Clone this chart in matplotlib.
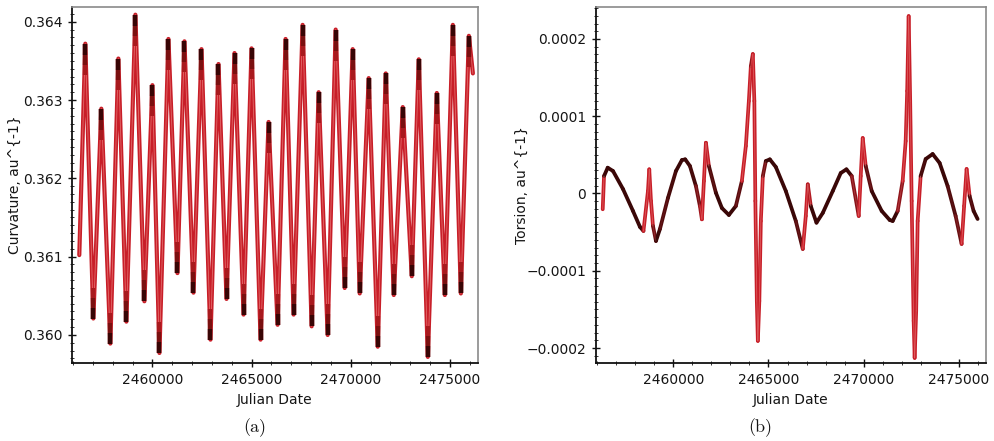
import numpy as np
import matplotlib
matplotlib.use("Agg")
import matplotlib.pyplot as plt
from matplotlib.collections import LineCollection
from matplotlib.path import Path
from matplotlib.ticker import MultipleLocator, FuncFormatter, FormatStrFormatter
from matplotlib.colors import to_rgb

# ---------------- data ----------------
curvature_jd = [2456313, 2456616, 2457020, 2457424, 2457879, 2458283, 2458687, 2459141,
                2459596, 2460000, 2460354, 2460808, 2461263, 2461616, 2462071, 2462475,
                2462929, 2463333, 2463737, 2464141, 2464596, 2465000, 2465455, 2465859,
                2466313, 2466717, 2467121, 2467576, 2468030, 2468384, 2468838, 2469242,
                2469697, 2470101, 2470455, 2470909, 2471364, 2471768, 2472172, 2472626,
                2473081, 2473434, 2473889, 2474343, 2474747, 2475152, 2475556, 2475960,
                2476162]
curvature = [0.36102, 0.36372, 0.36021, 0.36289, 0.35989, 0.36353, 0.36017, 0.36409,
             0.36043, 0.36319, 0.35977, 0.36378, 0.36079, 0.36375, 0.36054, 0.36365,
             0.35994, 0.36346, 0.36046, 0.36360, 0.36026, 0.36366, 0.35994, 0.36272,
             0.36013, 0.36378, 0.36026, 0.36396, 0.36011, 0.36310, 0.36000, 0.36390,
             0.36060, 0.36365, 0.36053, 0.36328, 0.35985, 0.36334, 0.36051, 0.36291,
             0.36075, 0.36352, 0.35972, 0.36309, 0.36051, 0.36396, 0.36053, 0.36382,
             0.36334]

torsion_jd = [2456298, 2456366, 2456560, 2456838, 2457362, 2457887, 2458254, 2458437,
              2458673, 2458741, 2458831, 2458935, 2459093, 2459303, 2459722, 2460142,
              2460456, 2460629, 2460876, 2461190, 2461400, 2461505, 2461610, 2461715,
              2461872, 2462239, 2462554, 2462921, 2463288, 2463603, 2463812, 2463970,
              2464075, 2464179, 2464258, 2464311, 2464389, 2464442, 2464520, 2464599,
              2464704, 2464861, 2465071, 2465386, 2465910, 2466434, 2466801, 2466959,
              2467064, 2467221, 2467520, 2467850, 2468375, 2468794, 2469093, 2469371,
              2469738, 2469843, 2469948, 2470105, 2470420, 2470944, 2471364, 2471521,
              2471783, 2472045, 2472203, 2472282, 2472360, 2472439, 2472517, 2472622,
              2472675, 2472754, 2472832, 2472989, 2473252, 2473619, 2473986, 2474405,
              2474825, 2475140, 2475271, 2475402, 2475559, 2475769, 2475979]
torsion_1e5 = [-2.04, 2.26, 3.34, 2.91, 0.58, -2.26, -4.33, -4.85,
               0.32, 3.13, -0.97, -4.20, -6.15, -4.59, -0.58, 2.91,
               4.33, 4.42, 3.56, 0.97, -1.62, -3.34, 1.62, 6.57,
               3.56, 0.10, -1.88, -2.78, -1.62, 1.62, 6.15, 11.97,
               16.49, 18.05, 11.97, -0.97, -13.91, -19.08, -13.91, -3.56,
               2.26, 4.20, 4.42, 3.43, 0.32, -3.56, -7.18, -2.91,
               1.19, -1.62, -3.78, -2.52, 0.32, 2.65, 3.13, 2.26,
               -2.91, 2.26, 7.18, 3.56, 0.32, -2.26, -3.43, -3.56,
               -2.26, 1.62, 6.79, 13.26, 22.96, 11.97, -0.97, -16.49,
               -21.28, -15.20, -3.56, 2.26, 4.46, 5.11, 3.95, 0.97,
               -2.91, -6.53, -1.62, 3.17, -0.32, -2.26, -3.30]
torsion = [v * 1e-5 for v in torsion_1e5]

x_major = [2460000, 2465000, 2470000, 2475000]
curv_ticks = [0.360, 0.361, 0.362, 0.363, 0.364]
tors_ticks = [-0.0002, -0.0001, 0.0, 0.0001, 0.0002]
xlabel_text = "Julian Date"
ylabel_left = "Curvature, au^{-1}"
ylabel_right = "Torsion, au^{-1}"
panel_labels = ["(a)", "(b)"]

# ---------------- style ----------------
RED = "#c81e28"
PINK = "#e26a6a"
DARK = "#380505"
TXT = "#151515"

XLIM = (2455945, 2476420)
YL_LIM = (0.359642, 0.364188)
YR_LIM = (-2.194e-4, 2.414e-4)

fig = plt.figure(figsize=(9.95, 4.41), dpi=100)
axL = fig.add_axes([72 / 995, 1 - 363 / 441, 406 / 995, 356 / 441])
axR = fig.add_axes([596 / 995, 1 - 363 / 441, 390 / 995, 356 / 441])

for ax in (axL, axR):
    ax.set_xlim(*XLIM)
    ax.set_xticks(x_major)
    ax.xaxis.set_minor_locator(MultipleLocator(1000))
    ax.xaxis.set_major_formatter(FuncFormatter(lambda v, p: "%d" % round(v)))
    for s in ("left", "bottom"):
        ax.spines[s].set_color("#111111")
        ax.spines[s].set_linewidth(1.3)
    for s in ("top", "right"):
        ax.spines[s].set_color("#8a8a8a")
        ax.spines[s].set_linewidth(1.2)
    ax.tick_params(which="major", direction="inout", length=6, width=1.0,
                   colors="#111111", labelsize=10, labelcolor=TXT, pad=4)
    ax.tick_params(which="minor", direction="inout", length=3, width=0.7,
                   colors="#333333")
    ax.tick_params(top=False, right=False, which="both")
    ax.set_xlabel(xlabel_text, fontsize=10, color=TXT)
    ax.xaxis.set_label_coords(0.5, (363 - 393) / 356)

# ---- left: curvature ----
axL.set_ylim(*YL_LIM)
axL.set_yticks(curv_ticks)
axL.yaxis.set_minor_locator(MultipleLocator(0.0001))
axL.yaxis.set_major_formatter(FormatStrFormatter("%.3f"))
axL.set_ylabel(ylabel_left, fontsize=10, color=TXT)
axL.yaxis.set_label_coords((22 - 72) / 406, 0.5)

axL.plot(curvature_jd, curvature, color=RED, lw=3.0, solid_joinstyle="round",
         solid_capstyle="round", zorder=2)
axL.plot(curvature_jd, curvature, color=PINK, lw=0.6, solid_joinstyle="round", zorder=3)

cj = np.array(curvature_jd)
cv = np.array(curvature)
is_peak = np.zeros(len(cv), bool)
is_trough = np.zeros(len(cv), bool)
is_peak[1:-1] = (cv[1:-1] > cv[:-2]) & (cv[1:-1] > cv[2:])
is_trough[1:-1] = (cv[1:-1] < cv[:-2]) & (cv[1:-1] < cv[2:])
down_mk = Path([(0, 0), (0, -1)])
up_mk = Path([(0, 0), (0, 1)])
shade = [(44, "#a81a1e"), (30, "#7a1010"), (16, DARK)]
for mask, mk in ((is_peak, down_mk), (is_trough, up_mk)):
    for k, (ms, col) in enumerate(shade):
        axL.plot(cj[mask], cv[mask], ls="none", marker=mk, ms=ms, mew=3.1,
                 mec=col, zorder=4 + k)

# ---- right: torsion ----
axR.set_ylim(*YR_LIM)
axR.set_yticks(tors_ticks)
axR.yaxis.set_minor_locator(MultipleLocator(0.00001))


def tfmt(v, p):
    if abs(v) < 1e-12:
        return "0"
    s = "%.4f" % abs(v)
    return ("\u2212" + s) if v < 0 else s


axR.yaxis.set_major_formatter(FuncFormatter(tfmt))
axR.set_ylabel(ylabel_right, fontsize=10, color=TXT)
axR.yaxis.set_label_coords((529 - 596) / 390, 0.5)

tj = np.array(torsion_jd, float)
tv = np.array(torsion, float)
px_x = 390 / (XLIM[1] - XLIM[0])
px_y = 356 / (YR_LIM[1] - YR_LIM[0])
pts = np.column_stack([tj, tv]).reshape(-1, 1, 2)
segs = np.concatenate([pts[:-1], pts[1:]], axis=1)
slope = np.abs(np.diff(tv) * px_y) / np.maximum(np.abs(np.diff(tj) * px_x), 1e-9)
t = np.clip((slope - 3.0) / 5.0, 0, 1)
dark_rgb = np.array(to_rgb("#3a0707"))
red_rgb = np.array(to_rgb(RED))
cols = dark_rgb[None, :] * (1 - t[:, None]) + red_rgb[None, :] * t[:, None]
lc = LineCollection(segs, colors=cols, linewidths=2.7, capstyle="round",
                    joinstyle="round", zorder=3)
axR.add_collection(lc)
pink_rgba = np.column_stack([np.tile(to_rgb(PINK), (len(t), 1)), 0.8 * t])
lc2 = LineCollection(segs, colors=pink_rgba, linewidths=0.6, capstyle="round",
                     joinstyle="round", zorder=4)
axR.add_collection(lc2)

# panel labels
fig.text(255 / 995, 1 - 428 / 441, panel_labels[0], ha="center", va="center",
         fontsize=13, family="cmr10", color=TXT)
fig.text(760 / 995, 1 - 428 / 441, panel_labels[1], ha="center", va="center",
         fontsize=13, family="cmr10", color=TXT)

fig.savefig("out.png", dpi=100)
